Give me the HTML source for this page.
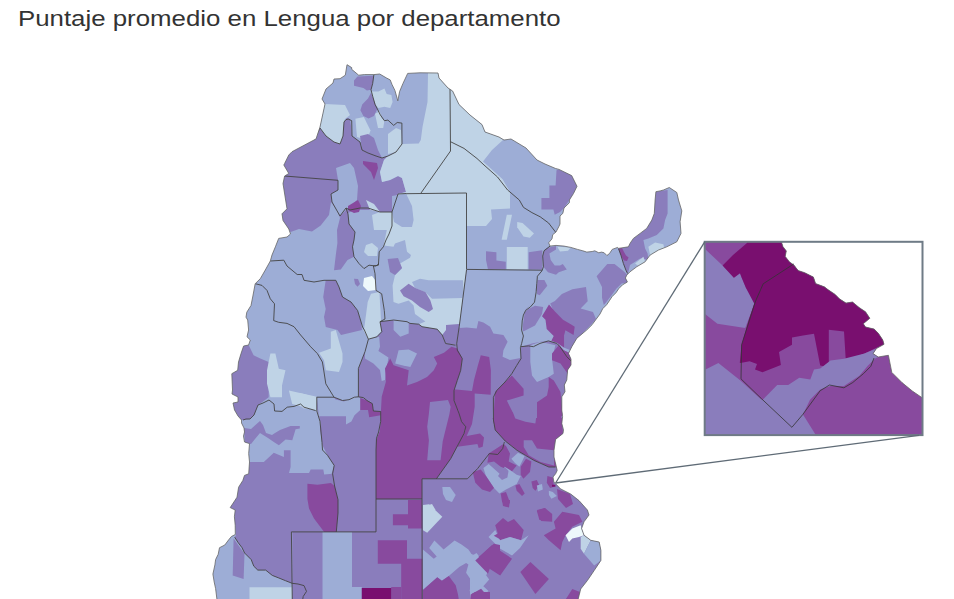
<!DOCTYPE html>
<html><head><meta charset="utf-8"><style>
html,body{margin:0;padding:0;background:#fff;}
body{width:954px;height:599px;overflow:hidden;position:relative;}
h1{position:absolute;left:18px;top:5.5px;margin:0;font-family:"Liberation Sans",sans-serif;font-weight:normal;font-size:22px;line-height:26px;color:#333;white-space:nowrap;transform-origin:0 0;transform:scaleX(1.1736);}
svg{position:absolute;left:0;top:0;}
</style></head><body>
<h1>Puntaje promedio en Lengua por departamento</h1>
<svg width="954" height="599" viewBox="0 0 954 599">
<clipPath id="cl"><polygon points="347,64.7 351.7,67.6 351.7,69.3 358.7,75.2 364.5,74.6 373.9,74.6 379.7,74 386.7,78.1 390.2,79.9 392,84.5 394.9,90.4 397.2,98.5 397.8,100.9 399.6,91.5 403,83.4 407.7,73.4 420,72.8 438,73 439,78 448,88 452.6,91 459,104.5 470,115 482,124.6 485,132 499,137 504,140 511,139 526,148 537,160 545,164 555.6,168.5 559,169.4 571.7,175.6 577,186.3 573.5,193.5 569.4,200 569.4,202.7 564,208 562.8,213.4 560,216 560,224 558.8,226.7 556,232 552.7,234.7 552,238.8 548.7,242.8 550,246.1 556,245.4 564,246.1 570.8,247.4 577.5,249.4 582.8,250.8 586.8,252.1 592.2,251.5 594.8,250.8 598.8,252.8 601.5,252.1 604.2,252.8 606.9,255.5 609.5,253.5 612.2,249.4 617.6,247.4 618.4,248.4 628.4,246.8 630,243.4 633.4,238.4 640.1,233.4 646.7,228.4 651.8,220.1 654.3,213.4 655.1,200 655.9,191.7 660.1,190.9 663.4,190 669.3,187.5 676.8,192.5 678.5,200 681.8,210.9 680.1,221.7 681,233.4 676.8,241.8 666.8,246.8 658.4,250.1 650.1,255.1 645.1,261.8 636.7,266.8 630,271.8 626.7,275.2 625.4,278 627.4,282 622.7,284.7 618.7,288.7 616,292.7 612,296.7 609.4,300.7 606.7,304.7 602.7,308.7 600,314 596,319.4 592,324.8 586.7,330 576.8,338.3 571.8,346.7 568.5,353.4 571,359.2 571,365 567.6,370 566.8,380 564.3,385 565,391.8 561.8,396.8 561.8,410 562.6,416.8 561.8,423.5 563.5,430 563,433.5 555.6,439.4 554,450.3 554,457 556.4,467 557.2,470.4 555.6,473.8 553,477 553.9,482 555.6,483.8 560.6,488.9 570.7,494 579,500.6 587.4,510 589,515 584,521.8 581.6,528.5 584,535.2 590.8,540.3 599.2,542 600.9,550.3 600.9,560.4 594.2,570.5 587.4,580.5 580.7,589 578.2,599 578,602 216,602 216.9,599 215.6,588.6 214.2,582 212.9,574.1 214.9,564.9 215.6,559.6 218.2,554.3 219.5,547.7 224.8,545 228.7,539.8 231.4,536.5 235.3,534.5 235.2,525.2 234.4,516.8 235.2,510 230.2,507.6 231.9,505 235.2,500 237,497.2 238.6,487.2 242.8,480.5 244.5,475.4 248.7,473.8 249.5,462 248.7,453.6 249.5,443.6 244.5,442 243.5,436 244.5,432 244,428 241.5,423 241.5,420 238,416 234.5,410 233,403 238,402 238,397 232,394 232.5,390 231.8,373.7 237.7,370.3 238.5,362 241,353.6 243.6,346 248.6,345 250.3,340 247,336.8 248.6,330 247.7,320 246,317.2 246.8,312.2 251,305.5 252.7,297 255.2,283.7 260.3,278.7 265.3,270 270.3,261 272,255 275.4,246.8 278.7,238.4 287,237 290.5,234 288.8,229 283,220.5 282,213.8 287,208.8 283,183.6 284.6,176 288.8,173.5 283.8,165 284.6,163.5 288.8,155 292,151.7 314,140 316,139 320,127 325,104 322,99 326,89 333,83 334,79 340,78.7 345.3,75.2"/></clipPath>
<polygon points="347,64.7 351.7,67.6 351.7,69.3 358.7,75.2 364.5,74.6 373.9,74.6 379.7,74 386.7,78.1 390.2,79.9 392,84.5 394.9,90.4 397.2,98.5 397.8,100.9 399.6,91.5 403,83.4 407.7,73.4 420,72.8 438,73 439,78 448,88 452.6,91 459,104.5 470,115 482,124.6 485,132 499,137 504,140 511,139 526,148 537,160 545,164 555.6,168.5 559,169.4 571.7,175.6 577,186.3 573.5,193.5 569.4,200 569.4,202.7 564,208 562.8,213.4 560,216 560,224 558.8,226.7 556,232 552.7,234.7 552,238.8 548.7,242.8 550,246.1 556,245.4 564,246.1 570.8,247.4 577.5,249.4 582.8,250.8 586.8,252.1 592.2,251.5 594.8,250.8 598.8,252.8 601.5,252.1 604.2,252.8 606.9,255.5 609.5,253.5 612.2,249.4 617.6,247.4 618.4,248.4 628.4,246.8 630,243.4 633.4,238.4 640.1,233.4 646.7,228.4 651.8,220.1 654.3,213.4 655.1,200 655.9,191.7 660.1,190.9 663.4,190 669.3,187.5 676.8,192.5 678.5,200 681.8,210.9 680.1,221.7 681,233.4 676.8,241.8 666.8,246.8 658.4,250.1 650.1,255.1 645.1,261.8 636.7,266.8 630,271.8 626.7,275.2 625.4,278 627.4,282 622.7,284.7 618.7,288.7 616,292.7 612,296.7 609.4,300.7 606.7,304.7 602.7,308.7 600,314 596,319.4 592,324.8 586.7,330 576.8,338.3 571.8,346.7 568.5,353.4 571,359.2 571,365 567.6,370 566.8,380 564.3,385 565,391.8 561.8,396.8 561.8,410 562.6,416.8 561.8,423.5 563.5,430 563,433.5 555.6,439.4 554,450.3 554,457 556.4,467 557.2,470.4 555.6,473.8 553,477 553.9,482 555.6,483.8 560.6,488.9 570.7,494 579,500.6 587.4,510 589,515 584,521.8 581.6,528.5 584,535.2 590.8,540.3 599.2,542 600.9,550.3 600.9,560.4 594.2,570.5 587.4,580.5 580.7,589 578.2,599 578,602 216,602 216.9,599 215.6,588.6 214.2,582 212.9,574.1 214.9,564.9 215.6,559.6 218.2,554.3 219.5,547.7 224.8,545 228.7,539.8 231.4,536.5 235.3,534.5 235.2,525.2 234.4,516.8 235.2,510 230.2,507.6 231.9,505 235.2,500 237,497.2 238.6,487.2 242.8,480.5 244.5,475.4 248.7,473.8 249.5,462 248.7,453.6 249.5,443.6 244.5,442 243.5,436 244.5,432 244,428 241.5,423 241.5,420 238,416 234.5,410 233,403 238,402 238,397 232,394 232.5,390 231.8,373.7 237.7,370.3 238.5,362 241,353.6 243.6,346 248.6,345 250.3,340 247,336.8 248.6,330 247.7,320 246,317.2 246.8,312.2 251,305.5 252.7,297 255.2,283.7 260.3,278.7 265.3,270 270.3,261 272,255 275.4,246.8 278.7,238.4 287,237 290.5,234 288.8,229 283,220.5 282,213.8 287,208.8 283,183.6 284.6,176 288.8,173.5 283.8,165 284.6,163.5 288.8,155 292,151.7 314,140 316,139 320,127 325,104 322,99 326,89 333,83 334,79 340,78.7 345.3,75.2" fill="#9dadd6"/>
<g clip-path="url(#cl)">
<polygon points="316,139 320,128 326,136 334,142 340,144 343,136 344,122 347,118 350,119 351,126 352,136 360,142 362,150 368,153 376,156 382,158 388,156 384,160 380,172 382,182 390,180 398,176 402,178 406,192 398,194 392,212 380,212 370,210 360,210 350,212 340,218 337,210 331,202 329,215 320.7,225.6 312,231.5 299,229 290.5,232 288.8,229 283,220.5 282,213.8 287,208.8 283,183.6 284.6,176 288.8,173.5 283.8,165 284.6,163.5 288.8,155 292,151.7 314,140" fill="#8a7dbc"/>
<polygon points="336,168 350,163 354,168 358,186 357,200 348,208 340,216 332,202 331,194 338,190 338,180" fill="#9dadd6"/>
<polygon points="363,161 370,162 377,163 378,168 374,180 371,172 366,167 363,164" fill="#884a9e"/>
<polygon points="348,206 358,200 361,206 359,212 354,213 348,210" fill="#884a9e"/>
<polygon points="340,218 344,214 349,209 348,214 349,224 355,232 354,240 352.5,247 354,256.8 347.5,260 340.8,269.4 334,270.3 335.8,255 337.4,243 337,230" fill="#8a7dbc"/>
<polygon points="322,104 325,104 345,105 350,115 345,119 344,122 343,128 343,136 340,144 334,142 326,136 320,128" fill="#bfd3e6"/>
<polygon points="371.5,91.5 378.5,91.5 384.4,88.6 386.7,93.9 391.4,95 392.6,102 390.2,107.9 384.4,106.7 378.5,107.9 375,104.4" fill="#bfd3e6"/>
<polygon points="355.4,118.7 363.8,117 370.5,130.5 367,140 357,137" fill="#bfd3e6"/>
<polygon points="375,113.7 379.7,111.4 382,118.4 384.4,120.7 383.2,128 378,128" fill="#bfd3e6"/>
<polygon points="388,134 396,128 401,130 402,144 396,152 388,154" fill="#bfd3e6"/>
<polygon points="354,80.4 357.5,76.4 373.9,75.8 372.7,83.4 371,89.8 366.9,90.4 363.4,88 354,85.7" fill="#8a7dbc"/>
<polygon points="360.4,110.2 362.2,104.4 368,98.5 371,92.7 377.4,109 373.9,116 368.6,118.4 363.4,116" fill="#8a7dbc"/>
<polygon points="360,136 368,134 374,138 378,150 382,158 372,155 362,150" fill="#8a7dbc"/>
<polygon points="428,73 438,73 439,78 448,88 452.6,91 459,104.5 470,115 482,124.6 485,132 499,137 503,140 492,150 483,161.5 492.2,169.8 502.6,179.2 506.8,186.5 510,192 510,208.5 491,209.5 492,219 486,226 466.5,226 466.5,270 459,330 455.6,345.2 445.6,343.5 442.2,335 437.2,329.2 422,326.7 418.7,324.2 410,323.4 407,321.7 393.6,320 385,319 384.3,310.5 381.7,293.8 376,290.4 375,273.6 373.4,266 378.4,265.2 379.2,251.8 383.4,246.8 386.8,230 374,230 372,215 380,212 392,212 398,194 406,192 402,178 398,176 390,180 382,182 380,172 384,160 388,156 396,152 402,144 418.7,143.4 420.8,140 422.5,127 427.5,102" fill="#bfd3e6"/>
<polygon points="380,245 393.5,246.8 395,243.4 405,240 407,251.8 411,255 410,257.7 400,263.6 402,268.6 395,275.3 392.6,285.4 393.5,302 398.5,303.8 408.6,300.5 413.6,305.5 415,314 425.4,321.4 418.7,324.2 410,323.4 407,321.7 393.6,320 385,319 384.3,310.5 381.7,293.8 376,290.4 375,273.6 373.4,266 378.4,265.2 379.2,251.8" fill="#9dadd6"/>
<polygon points="392,196 406,193.5 412,206 413.6,220 412,227 402,227 394,222 392,212" fill="#9dadd6"/>
<polygon points="412,282 420,278.7 428.7,280.3 463,280.3 463.4,293.4 462.5,298 432,298.8 425,292 415,288" fill="#9dadd6"/>
<polygon points="387.6,259 398,258 402,268 395,275 390,272" fill="#8a7dbc"/>
<polygon points="446,325 459,324 459,330 456,345 445.6,343.5 442.2,335 446,330" fill="#8a7dbc"/>
<polygon points="366,200 374,204 380,212 370,210" fill="#bfd3e6"/>
<polygon points="400,290.4 408.6,283.7 415.3,288 425.4,292 430.4,300.5 433,309 428.7,312 420,307 412,300.5 403.6,296.3" fill="#8a7dbc"/>
<polygon points="506.8,247 527.7,247 527.7,269.5 506.8,269.5" fill="#bfd3e6"/>
<polygon points="506.8,214.7 512,214.7 506.8,239.8 501.6,239.8" fill="#bfd3e6"/>
<polygon points="517.2,222 522.5,223 534,233.5 529.8,237.7 523.5,236.6 517.2,227.2" fill="#bfd3e6"/>
<polygon points="486,251.3 496.4,252.3 496.4,260.6 505.8,261.7 505.8,269.5 488,269.5 486,260" fill="#8a7dbc"/>
<polygon points="528.7,252.3 542.3,250.2 542.3,269.5 528.7,269.5" fill="#8a7dbc"/>
<polygon points="556.5,170.3 559,169.4 571.7,175.6 577,186.3 573.5,193.5 569.4,200 564,208 560,212 554.7,214.7 553.4,209.4 541.4,209.5 541.4,198 549.4,198 549.4,185.5 555.6,185.5" fill="#8a7dbc"/>
<polygon points="618.4,248.4 628.4,246.8 630,243.4 633.4,238.4 640.1,233.4 646.7,228.4 651.8,220.1 654.3,213.4 655.1,200 655.9,191.7 660.1,190.9 667.6,190 667.6,213.4 665.1,220.1 663.4,228.4 656.8,235.1 648.4,238.4 643.4,240.1 645.1,248.4 647.6,253.5 648.4,260.1 640.1,258.5 635.1,261.8 630,265.1 628.4,271.8 627.5,273.5 625.9,270.1 623.4,263.5 620.9,255.1" fill="#8a7dbc"/>
<polygon points="618.4,248.4 622,248 624,252 626,255.5 628.6,257.6 627,261 624,260.5 621.8,257 620,253" fill="#884a9e"/>
<polygon points="648.4,246.8 655.1,242.6 663.4,244.3 664.3,248.4 658.4,251.8 650.1,255.1" fill="#bfd3e6"/>
<polygon points="635.1,263.5 643.4,256.8 645.1,261.8 638.4,266" fill="#bfd3e6"/>
<polygon points="544,250.8 546.7,248.1 556,246.1 556,249.4 549.4,253.5 550.7,260.1 554.7,265.5 560,265.5 562.8,264.1 566.8,269.5 558.8,272.2 556,274.8 548,272.2 543.4,266.8 542.7,256" fill="#8a7dbc"/>
<polygon points="557.4,246.8 570.8,247.4 568,250.8 560,251.5" fill="#bfd3e6"/>
<polygon points="537.4,280 544.4,280 547.3,285.8 539.7,295.2 536.8,294" fill="#8a7dbc"/>
<polygon points="596.6,276.3 607.3,264 614.5,264 623.4,271 627,274.6 627,282.6 621.6,283.5 616.3,288.8 611,296 605.6,303 603.8,305 602,297.7 602,287" fill="#8a7dbc"/>
<polygon points="550.2,303.4 554.9,301 561.9,294 572.4,289.3 586,287 587.7,301.3 580.6,308.4 593,312 596,319 589,326.7 584,331.7 578,340 575,346 570,350 564.2,347.7 564.2,334.9" fill="#8a7dbc"/>
<polygon points="523.4,313.9 528,309.2 535,305.7 543.2,306.9 542,313.9 535,325.5 525.7,330.2 522.8,331.4" fill="#8a7dbc"/>
<polygon points="542,316.2 549,304.5 554.9,311.5 563,319.7 571.2,324.4 574.7,326.7 573.6,334.9 565.4,330.2 564.2,334.9 564.2,347.7 557.2,343 551.4,340.7 553.7,336 546.7,329 545.5,319.7" fill="#884a9e"/>
<polygon points="466.5,270 459,330 456,345 457.3,350.2 462.3,358.6 460.7,370.3 457.3,380.4 454,390.5 454,400.5 457.3,409 458.2,410 459,413.4 461.6,421.7 465.8,426.8 464,433.5 450.7,458.7 436.4,478.8 467.4,478.8 477.5,468.7 489.3,453.6 497.7,454.5 502.7,448.6 504.4,441.9 505.2,441 495.2,430 492.6,420 493.4,397.2 496.7,390.5 505,382 511.8,373.7 516.8,365.3 521,358.6 520.2,345.2 522,328.4 523.6,320 523.6,313.8 527,308.4 532.5,301.3 535,292.4 537,283.5 537.8,274.6 542,270" fill="#8a7dbc"/>
<polygon points="466.7,269.2 542,270 538.5,275 536.8,283.4 533.5,301.7 525.1,310.1 522.6,326.8 521,346.8 520.6,358 510,360 502.6,356.8 503.4,350.2 507.6,341.8 503.4,335.1 493.4,333.5 490.1,326.8 483.4,322.6 478.4,321 476.7,328.4 466.7,327.6 459.2,328 463.4,293.4" fill="#9dadd6"/>
<polygon points="480.8,355.2 489.2,357 490.9,370.3 490.7,394.7 474.7,393.4 474.7,406.7 472,424 466.7,436 480,433.4 484,437.4 482.7,446.8 478.7,448 477.4,444 457.4,446.8 460,440 465.4,430.7 460.7,420 454.7,406.7 452.7,390.7 453.4,389.3 472,391 474,380 478,365" fill="#884a9e"/>
<polygon points="521,346.8 532,343.5 540.3,341.8 550.4,341 558.8,344.3 563.8,350.2 570.5,353.6 571.4,363.6 568,370.3 566.3,382 565.5,390.5 562,397.2 562,407.2 563,414 561.4,416.7 563,433.5 555.6,439.4 554,450.3 554,457 556.4,467 548.9,467 533.8,460.3 525.4,455.3 517,450.3 505.2,441 495.2,430 492.6,420 493.4,397.2 496.7,390.5 505,382 511.8,373.7 516.8,365.3 521,358.6" fill="#8a7dbc"/>
<polygon points="530.3,345.2 540.3,341.8 555.4,345.2 552,358.6 553.8,373.7 548.7,377 537,382 532,375.4 530.3,362" fill="#9dadd6"/>
<polygon points="552,353.6 558.8,345.2 563.8,350.2 570.5,353.6 571.4,363.6 568.9,375.4 560.5,363.6 552,360.3" fill="#884a9e"/>
<polygon points="548.7,377 553.8,380.4 560.5,392 562,407.2 563,414 561.4,416.7 562,420 537,420 537,402.2 547,395.5 548.7,387" fill="#884a9e"/>
<polygon points="495,392 511.8,375.4 523.6,388.8 523.6,395.5 506.8,400.5 511.8,410.6 518.5,420 493.4,420" fill="#884a9e"/>
<polygon points="492.6,418 562,418 563,433.5 555.6,439.4 554,450.3 554,457 556.4,467 548.9,467 533.8,460.3 525.4,455.3 517,450.3 505.2,441 495.2,430" fill="#884a9e"/>
<polygon points="512,410 537,410 535.4,423.4 525.4,421.7 515.3,418.4" fill="#8a7dbc"/>
<polygon points="523.7,440.2 532,440.2 537,448.6 554,450.3 554,465.4 540.5,462 528.7,455.3 523.7,447" fill="#8a7dbc"/>
<polygon points="325.7,280.3 335.8,280.3 339,287 342.5,297 351,302 357.6,310.5 361,322 362,330 341,335 337.5,330 325.8,327 324,317 325.7,309 323.2,297" fill="#8a7dbc"/>
<polygon points="364,278 372,276 376,281 376,290 368,291 363,286" fill="#edf8fb"/>
<polygon points="367.7,302 371,293.8 379.4,292 381,320 381,331.7 376.8,336.8 368.4,338.5 364,330" fill="#bfd3e6"/>
<polygon points="366,245 372,243 378,248 377,256 368,256 364,252" fill="#bfd3e6"/>
<polygon points="354,278.7 358,279 360,284 357.5,286.7 355,284" fill="#8a7dbc"/>
<polygon points="243.6,346 248.6,345 253.6,355.2 260.3,358.6 268.7,362 268.7,397.2 262,402.2 258,405 254,415 250,419 243,420 241.5,420 238,416 234.5,410 233,403 238,402 238,397 232,394 232.5,390 231.8,373.7 237.7,370.3 238.5,362 241,353.6" fill="#8a7dbc"/>
<polygon points="270.4,353.6 275.4,353.6 278.8,368.7 285.5,370.3 282,385.4 282,397.2 270.4,397.2 267,383.8 267,370.3" fill="#bfd3e6"/>
<polygon points="288.9,390.5 300,393 315.7,397.2 316.5,410.6 304,407.2 292.2,404" fill="#bfd3e6"/>
<polygon points="319,352.7 330.8,348.5 330.8,331.7 335.8,330 342.5,353.6 342.5,362 339,372 325.8,370.3 324,360.3" fill="#bfd3e6"/>
<polygon points="380,321.7 393.6,320 407,321.7 410,323.4 418.7,324.2 422,326.7 437.2,329.2 442.2,335 445.6,343.5 455.6,345.2 457.3,350.2 462.3,358.6 460.7,370.3 457.3,380.4 454,390.5 454,400.5 457.3,409 458.2,410 459,413.4 461.6,421.7 465.8,426.8 464,433.5 450.7,458.7 436.4,478.8 422,478.8 422,499 376,499 376,440.2 379.4,431.8 380.9,411.8 374.2,411 370.9,401.8 363.4,397.6 358.4,396.8 358.4,368.4 365,351.7 368.4,339.2 376.8,336.8 381.8,331.7" fill="#8a7dbc"/>
<polygon points="363.4,330 380.9,330 380.9,331.7 375,337.5 368.4,339.2" fill="#bfd3e6"/>
<polygon points="368.4,339.2 379.2,336.7 380,346.7 378.4,350.9 388.4,357.5 385,380 381.7,381 380,370 373.4,363.4 365,358.4 365,351.7" fill="#9dadd6"/>
<polygon points="393.6,320 408.7,321.7 408.7,333.4 400.3,336.8 393.6,330" fill="#9dadd6"/>
<polygon points="398.6,350.2 408.7,349.4 417,353.6 410.3,367 402,365.3 395.2,363.6" fill="#9dadd6"/>
<polygon points="390.2,358.6 393.6,365.3 408.7,370.3 407,385.4 417,382 427,377 433.8,370.3 437.2,363.6 433.8,357 444,352.7 451.4,346.8 457.3,348.5 462.3,358.6 460.7,370.3 457.3,380.4 454,390.5 454,400.5 457.3,409 458.2,410 459,413.4 461.6,421.7 465.8,426.8 464,433.5 450.7,458.7 436.4,478.8 422,478.8 422,499 376,499 376,440.2 379.4,431.8 380.9,411.8 381.7,396.8 385.9,381.8 385,368.4" fill="#884a9e"/>
<polygon points="430,402 448,400 450.7,406.7 449.3,414.7 445.3,430.7 442.7,441.4 440.6,460.3 427.2,460.3 428.9,440.2 427.2,426.8 428.9,413.4" fill="#8a7dbc"/>
<polygon points="376,499 376,440.2 379.4,431.8 381,420 380,412 376,412 376,499" fill="#8a7dbc"/>
<polygon points="316.5,397.2 334,397.2 342.5,400.5 349,399.7 354.3,397.2 358.4,396.8 363.4,397.6 370.9,401.8 374.2,411 380.9,411.8 380,430 376,440.2 376,531.9 335,531.9 337,513 337,499.7 333.6,486 331.6,473.8 334.2,465.4 327.5,455.3 322.5,445.2 320,430 320.8,423.4 317.4,410" fill="#8a7dbc"/>
<polygon points="316.8,397.3 333.5,397.3 335.6,399.4 344,401.5 348.2,399.4 354.5,396.8 358.7,397.3 360.3,397.9 360.3,410 354.5,415.2 351.4,421.4 346,424.6 346,416.2 318.9,416.2" fill="#9dadd6"/>
<polygon points="360.3,397.9 367,400.5 372.3,403.6 373.4,411 380.7,411.5 380.7,415.2 369.2,417.3 368,410 360.3,410" fill="#884a9e"/>
<polygon points="300,393 316.8,396.8 316.8,411 313.6,409.4 303,408.3 300,403.6" fill="#bfd3e6"/>
<polygon points="249.5,462 263.8,462 273.8,452.8 283.9,457 283.9,450.3 290.6,450.3 290.6,467 289,473 309,473 310.7,469.6 323.3,469.6 324.2,474.6 332.6,473.8 336,487.2 339.3,499 339.3,510 339,531.9 291.4,531.9 292.1,583.3 285.5,580.7 278.9,578 272.3,575.4 265.7,570.1 257.8,570.1 253.8,566.2 251.2,559.6 244.6,553 242,547.7 238,542.4 234.7,537.2 236,535.2 235.2,525.2 234.4,516.8 235.2,510 230.2,507.6 231.9,505 235.2,500 237,497.2 238.6,487.2 242.8,480.5 244.5,475.4 248.7,473.8" fill="#8a7dbc"/>
<polygon points="244,428 251,429 260,421 263,425 266,433 272,435 275,433 280,430 290.6,426 299.8,426 299.8,428.5 295.6,429.3 292.3,440.2 285.6,439.4 278.9,445.2 273.8,442 268,438 260,433 255,439 251,444 245,443" fill="#8a7dbc"/>
<polygon points="307.4,483.8 317.4,484.7 330.9,483 334.6,486 338,499.7 338,513 336.3,531.9 324.2,531.9 314,518.5 309,508.4 307.4,499" fill="#884a9e"/>
<polygon points="233.6,538.6 244.5,553.7 243.6,578.9 232.7,575.5" fill="#8a7dbc"/>
<polygon points="249.5,587.2 292.3,587.2 292.3,602 249.5,602" fill="#bfd3e6"/>
<polygon points="292.3,531.9 322.5,531.9 322.5,602 292.3,602" fill="#8a7dbc"/>
<polygon points="352,531.9 376,531.9 376,499 422.2,499 422.2,602 352,602" fill="#8a7dbc"/>
<polygon points="408,500 422.2,500 422.2,528.5 408,528.5 408,525.2 392.9,525.2 392.9,514.3 408,514.3" fill="#884a9e"/>
<polygon points="377.8,540.3 407,540.3 407,558.7 422.2,558.7 422.2,602 401.2,602 401.2,563.8 377.8,563.8" fill="#884a9e"/>
<polygon points="352,587 361.8,587 361.8,602 352,602" fill="#9dadd6"/>
<polygon points="391.2,587 401.2,587 401.2,602 391.2,602" fill="#884a9e"/>
<polygon points="361.8,588 391.2,588 391.2,602 361.8,602" fill="#790f6f"/>
<polygon points="422,478.8 436.4,478.8 467.4,478.8 477.5,468.7 489.3,453.6 497.7,454.5 502.7,448.6 505.2,441 517,450.3 525.4,455.3 533.8,460.3 548.9,467 556.4,467 557.2,470.4 555.6,473.8 553,477 553.9,482 555.6,483.8 560.6,488.9 570.7,494 579,500.6 587.4,510 589,515 584,521.8 581.6,528.5 584,535.2 590.8,540.3 599.2,542 600.9,550.3 600.9,560.4 594.2,570.5 587.4,580.5 580.7,589 578.2,599 578,602 422.2,602" fill="#8a7dbc"/>
<polygon points="442.3,487 450,487 455.7,495 452,502 446,500 443,494" fill="#9dadd6"/>
<polygon points="427,505.6 432,504 435.6,510 430,512" fill="#bfd3e6"/>
<polygon points="488.7,453.4 503.4,444 506,446 510,453.4 508.7,461.4 516.7,465.4 511.4,472 507.4,469.4 500.7,466.7 494,461.4 487.4,462.7" fill="#884a9e"/>
<polygon points="511.4,458.7 518,452.7 524.7,456 519.4,466.7 515,463" fill="#9dadd6"/>
<polygon points="520.7,466.7 526,458.7 531.4,461.4 530,472 523.4,478.7 520.7,474.7" fill="#884a9e"/>
<polygon points="483.4,468 488.7,464 500.7,474.7 504.7,466.7 510,470 516.7,474.7 520.7,476 516.7,484 506,489.4 499.4,493.4 494,488 486,476" fill="#9dadd6"/>
<polygon points="498,476 504.7,466.7 508.5,471 507.4,477.4 502,480" fill="#8a7dbc"/>
<polygon points="472.7,472 480.7,469.4 486,476 494,488 490,492 482,489.4 475.3,482.7" fill="#884a9e"/>
<polygon points="500.7,493.4 506,492 510,502.7 506,506.7 502,501.4" fill="#884a9e"/>
<polygon points="515.4,485.4 519.4,484 524.7,493.4 522,496 516.7,490.7" fill="#884a9e"/>
<polygon points="531.4,481.4 536.8,480 539.4,485.4 535.4,490.7 532.7,488" fill="#884a9e"/>
<polygon points="536.8,485.4 542,484 542.8,489.4 538,491.4" fill="#9dadd6"/>
<polygon points="547.4,476 552.8,477.4 554,486.7 550.1,488 546.8,482.7" fill="#884a9e"/>
<polygon points="548.8,490.7 552.8,492 556.8,496 551.4,498.7 549,495" fill="#9dadd6"/>
<polygon points="536.8,510.8 544.8,508 550.1,514.8 550,520 539.4,520" fill="#884a9e"/>
<polygon points="552,484.7 555.4,484.7 555.4,486.7 552,486.7" fill="#790f6f"/>
<polygon points="557,489 570,494 573,504 566,508 558,499" fill="#884a9e"/>
<polygon points="495.2,525.2 503,518 508,522 514,519 523.7,530 521,540.3 510,537 500,540.3" fill="#884a9e"/>
<polygon points="488.5,537 495.2,530 500,540.3 510,537 521,540.3 528.7,535.2 520,548 512,555.4 500.2,548.7" fill="#9dadd6"/>
<polygon points="475,560.4 491.8,545.3 512,558.7 500.2,575.5 486.8,567" fill="#884a9e"/>
<polygon points="470,553.7 478,556 488.5,570 482,585 488.5,591 478,599 470,599" fill="#9dadd6"/>
<polygon points="520.3,572.1 530.4,562 548.9,578.9 535.4,594" fill="#884a9e"/>
<polygon points="537,510 545,508 552.2,514 552.2,521.8 541,521" fill="#884a9e"/>
<polygon points="543.8,535.2 555.6,528.5 553.9,521.8 562.3,511.7 579,515 582.4,521.8 572.3,526.8 565.6,535.2 562.3,542 560.6,550.3 548.9,540.3" fill="#884a9e"/>
<polygon points="565.6,535.2 572.3,528.5 580.7,525.2 581.6,528.5 584,535.2 579,537 572.3,538.6 569,542" fill="#edf8fb"/>
<polygon points="580.7,537 584,535.2 590.8,540.3 584,553.7 580.7,548.7" fill="#bfd3e6"/>
<polygon points="584,553.7 590.8,540.3 599.2,542 600.9,550.3 600.9,560.4 594.2,565.4" fill="#9dadd6"/>
<polygon points="564,602 572.3,589 580,592 578.2,599 578,602" fill="#884a9e"/>
<polygon points="472,592 490,592 490,602 472,602" fill="#884a9e"/>
<polygon points="423,505 429,504.2 442.3,516.8 427.2,532.7 423,530.2" fill="#bfd3e6"/>
<polygon points="422.9,549.6 433.8,558.8 436.7,556.5 429.2,547.9 434.4,540.4 443.6,549.6 454.6,540.4 461.5,544.4 468.4,549.6 472.5,555.4 476.5,553 478.8,556 475.3,560.5 489.2,579.6 481.1,588.8 470.7,594.6 469.6,590 471.9,587.6 470.7,579.6 466.1,572.7 468.4,564.6 466.1,562.9 459.2,566.9 448.8,576.1 441.9,580.7 437.3,577.3 422.9,590" fill="#9dadd6"/>
<polygon points="422.9,590 437.3,577.3 441.9,580.7 448.8,576.1 455.7,585.3 458,594.6 459.2,602 422.9,602" fill="#884a9e"/>
<polygon points="475.3,560.5 484.6,552 493.8,543.8 500,545 500,575 490.3,566.9 488,573.8" fill="#884a9e"/>
<polygon points="470.7,594.6 481.1,588.8 489.2,598 489,602 470,602" fill="#884a9e"/>
<polygon points="493.8,535.8 500,532.3 500,539.2" fill="#884a9e"/>
<polygon points="419,559 422.3,559 422.3,602 419,602" fill="#884a9e"/>
<polygon points="502,500 510,500 509,507.5 503,506" fill="#884a9e"/>
<g fill="none" stroke="#444" stroke-width="0.9" stroke-linejoin="round">
<polyline points="450,88.5 450.5,151 421,193"/>
<polyline points="406,193.7 466.5,193 466.5,269.4"/>
<polyline points="450.5,141.7 464,148.4 477,158.5 484,165 497.5,177 507.6,190 519.3,200 523.5,207.4 531.9,212.6 540.2,216.8 548.6,223 555.9,232.5"/>
<polyline points="466.5,269.4 542,270.2"/>
<polyline points="550,246.1 544,250.8 542.7,256.1 543.4,266.8 542,270.8 537.4,276.2 536.8,283.5 536.2,291.7 534.5,302.2 530.4,306.9 525.7,310.4 523.4,315 522.2,320.9 521.6,330.2 523.4,336 521.6,343.6 520.4,347.7 521,358.6 516.8,365.3 511.8,373.7 505,382 496.7,390.5 493.4,397.2 493.4,420 495.2,430 505.2,441 517,450.3 525.4,455.3 533.8,460.3 548.9,467 555.6,467"/>
<polyline points="520.9,346.7 528.4,345.9 533.4,346.7 540,343.4 548.4,340.9 556.8,343.4 560,346.7 566.8,356.7 571,361"/>
<polyline points="618.4,248.4 620.9,255.1 623.4,263.5 625.9,270.1 627.5,273.5"/>
<polyline points="466.5,270 459.2,326.8 456.7,343.5 457.3,350.2 462.3,358.6 460.7,370.3 457.3,380.4 454,390.5 454,400.5 457.3,409 459,413.4 461.6,421.7 465.8,426.8 464,433.5 450.7,458.7 436.4,478.8"/>
<polyline points="422,478.8 467.4,478.8 477.5,468.7 489.3,453.6 497.7,454.5 502.7,448.6 504.4,441.9"/>
<polyline points="422,478.8 422.2,602"/>
<polyline points="376,499 422,499"/>
<polyline points="376,450 376,531.9 291.4,531.9 292.3,602"/>
<polyline points="380,321.7 385,319 384.3,310.5 381.7,293.8 376,290.4 375,273.6 373.4,266 378.4,265.2 379.2,251.8 383.4,246.8 386,240 389,234 392,226 392,212"/>
<polyline points="380,321.7 393.6,320 407,321.7 410,323.4 418.7,324.2 422,326.7 437.2,329.2 442.2,335 445.6,343.5 455.6,345.2"/>
<polyline points="380,321.7 381.8,331.7 376.8,336.8 368.4,339.2 365,351.7 358.4,368.4 358.4,396.8 363.4,397.6 367,400.5 372.3,403.6 373.4,411 380.7,411.5 380.7,421.4 378.6,432 376.5,438.2 376,450"/>
<polyline points="316.5,397.2 334,397.2 342.5,400.5 349,399.7 354.3,397.2 358.4,396.8"/>
<polyline points="316.8,397.3 316.8,411 320,421.4 321,432 322,442.4 322.5,450 327.5,455.3 334.2,465.4 332.6,473.8 334.6,486 338,499.7 338,513 336.3,531.9"/>
<polyline points="243,420 246,419 250,419 254,415 258,405 263,403 269,400 274,404 274.6,411 282,411.4 287.2,407.2 294,406.4 300.6,404 304,407.2 315.7,410.6"/>
<polyline points="273.7,320.6 278.7,322.3 287,323.4 294,326.7 300.6,335 310.7,346.8 317.4,353.6 322.4,362 324,372 325.8,383.8 330.8,392 334,397.2"/>
<polyline points="255.2,283.7 262,285.4 267,290.4 270.3,298.8 274.5,303.8 273.7,320.6"/>
<polyline points="270.3,261 283.8,260.2 287,266 297.2,274.5 302,274.5 304,280.3 314,282 324,280.3 335.8,280.3 339,287 342.5,297 351,302 357.6,310.5 362.6,327 364.4,330 368.4,339.2"/>
<polyline points="284.6,176 338,180.3 338,190 331,194 332,202 340,216 346,208 350,210 360,208 368,208 380,212 392,212"/>
<polyline points="346,208 348,214 349,224 355,232 354,240 352.5,246.8 354,256.8 359,263.6 364,268.6 369,265.2 376,266 379,263.6"/>
<polyline points="314,140 320,128 326,136 334,142 340,144 343,136 344,122 346,119.6 348.2,119 351.7,120.7 352,136"/>
<polyline points="352,136 360,142 362,150 368,153 376,156 382,158 388,156 396,152 402,144"/>
<polyline points="373.9,74.6 372.7,83.4 371,89.8 372.7,96.2 375,104.4 377.4,109 380.3,114.9 384.4,120.7 387.9,120.1 393.7,125.4 397.2,122.5 401.9,123.1 401.9,130 402,144"/>
<polyline points="392,212 398,194 406,193.5"/>
<polyline points="234.7,537.2 238,542.4 242,547.7 244.6,553 251.2,559.6 253.8,566.2 257.8,570.1 265.7,570.1 272.3,575.4 278.9,578 285.5,580.7 292.1,583.3 298,584 304,585.6 306.5,591.4 303.2,596.5 302.3,602"/>
</g></g>
<polygon points="347,64.7 351.7,67.6 351.7,69.3 358.7,75.2 364.5,74.6 373.9,74.6 379.7,74 386.7,78.1 390.2,79.9 392,84.5 394.9,90.4 397.2,98.5 397.8,100.9 399.6,91.5 403,83.4 407.7,73.4 420,72.8 438,73 439,78 448,88 452.6,91 459,104.5 470,115 482,124.6 485,132 499,137 504,140 511,139 526,148 537,160 545,164 555.6,168.5 559,169.4 571.7,175.6 577,186.3 573.5,193.5 569.4,200 569.4,202.7 564,208 562.8,213.4 560,216 560,224 558.8,226.7 556,232 552.7,234.7 552,238.8 548.7,242.8 550,246.1 556,245.4 564,246.1 570.8,247.4 577.5,249.4 582.8,250.8 586.8,252.1 592.2,251.5 594.8,250.8 598.8,252.8 601.5,252.1 604.2,252.8 606.9,255.5 609.5,253.5 612.2,249.4 617.6,247.4 618.4,248.4 628.4,246.8 630,243.4 633.4,238.4 640.1,233.4 646.7,228.4 651.8,220.1 654.3,213.4 655.1,200 655.9,191.7 660.1,190.9 663.4,190 669.3,187.5 676.8,192.5 678.5,200 681.8,210.9 680.1,221.7 681,233.4 676.8,241.8 666.8,246.8 658.4,250.1 650.1,255.1 645.1,261.8 636.7,266.8 630,271.8 626.7,275.2 625.4,278 627.4,282 622.7,284.7 618.7,288.7 616,292.7 612,296.7 609.4,300.7 606.7,304.7 602.7,308.7 600,314 596,319.4 592,324.8 586.7,330 576.8,338.3 571.8,346.7 568.5,353.4 571,359.2 571,365 567.6,370 566.8,380 564.3,385 565,391.8 561.8,396.8 561.8,410 562.6,416.8 561.8,423.5 563.5,430 563,433.5 555.6,439.4 554,450.3 554,457 556.4,467 557.2,470.4 555.6,473.8 553,477 553.9,482 555.6,483.8 560.6,488.9 570.7,494 579,500.6 587.4,510 589,515 584,521.8 581.6,528.5 584,535.2 590.8,540.3 599.2,542 600.9,550.3 600.9,560.4 594.2,570.5 587.4,580.5 580.7,589 578.2,599 578,602 216,602 216.9,599 215.6,588.6 214.2,582 212.9,574.1 214.9,564.9 215.6,559.6 218.2,554.3 219.5,547.7 224.8,545 228.7,539.8 231.4,536.5 235.3,534.5 235.2,525.2 234.4,516.8 235.2,510 230.2,507.6 231.9,505 235.2,500 237,497.2 238.6,487.2 242.8,480.5 244.5,475.4 248.7,473.8 249.5,462 248.7,453.6 249.5,443.6 244.5,442 243.5,436 244.5,432 244,428 241.5,423 241.5,420 238,416 234.5,410 233,403 238,402 238,397 232,394 232.5,390 231.8,373.7 237.7,370.3 238.5,362 241,353.6 243.6,346 248.6,345 250.3,340 247,336.8 248.6,330 247.7,320 246,317.2 246.8,312.2 251,305.5 252.7,297 255.2,283.7 260.3,278.7 265.3,270 270.3,261 272,255 275.4,246.8 278.7,238.4 287,237 290.5,234 288.8,229 283,220.5 282,213.8 287,208.8 283,183.6 284.6,176 288.8,173.5 283.8,165 284.6,163.5 288.8,155 292,151.7 314,140 316,139 320,127 325,104 322,99 326,89 333,83 334,79 340,78.7 345.3,75.2" fill="none" stroke="#666" stroke-width="0.8"/>
<clipPath id="ic"><rect x="705" y="242" width="217.5" height="193"/></clipPath>
<g clip-path="url(#ic)">
<rect x="705" y="242" width="217" height="193" fill="#fff"/>
<polygon points="705,242 781.9,242 781.9,243.4 783,246.7 786.3,251 785.2,256.4 789.5,261.9 793.9,265.1 798.2,270.6 804.7,272.7 813.4,277.1 815.6,283.6 824.3,286.8 828.6,290.1 835.1,294.4 839.4,298.8 846,303.1 852.5,302 859,307.4 865.5,311.8 869.8,318.3 863.3,323.7 865.5,327 874.2,329.1 878.5,333.5 882.8,340 884,344.3 876.5,348.5 873,353.6 878.2,357 888.4,355.3 891.8,372.4 902,382.6 912.3,391 922.5,398 922.5,435 705,435" fill="#884a9e"/>
<polygon points="705,249 722.6,265.5 733.9,277.7 740,273.3 741.7,277.7 746,288 755.6,301 745.2,328 717.4,323.7 705,314" fill="#8a7dbc"/>
<polygon points="722.6,265.5 733,255 747,243 747,242 781.9,242 781.9,243.4 783,246.7 786.3,251 785.2,256.4 789.5,261.9 793.9,265.1 798.2,270.6 804.7,272.7 813.4,277.1 815.6,283.6 824.3,286.8 828.6,290.1 835.1,294.4 839.4,298.8 846,303.1 852.5,302 859,307.4 865.5,311.8 869.8,318.3 863.3,323.7 865.5,327 874.2,329.1 878.5,333.5 882.8,340 884,344.3 864.5,353.6 845.8,360.4 844,331.5 828.8,329.8 828.8,367.3 820.2,365.6 814,333.7 803,335.5 792,337.4 792,344.7 779,352 780.9,365 762.5,372.3 755,369.5 757,364 749.6,361.2 740.4,363 739.8,362.7 741.6,344.8 748.8,319.7 754.2,303.5 746,288 741.7,277.7 740,273.3 733.9,277.7" fill="#790f6f"/>
<polygon points="705.5,369.5 718.4,363 740.4,380.5 760.7,399 762.5,399.9 777.2,385 788.2,385 799.3,377.8 810.3,379.6 814,369.5 820.2,368.6 830.5,360.4 844,358.7 864.5,353.6 876.5,348.5 873,353.6 878.2,357 874.8,358.7 868,365.6 859.4,375.8 844,386 830.5,386 820.2,389.4 810,399.7 803,414.6 815.8,435 705,435" fill="#8a7dbc"/>
<polyline points="781.9,242 781.9,243.4 783,246.7 786.3,251 785.2,256.4 789.5,261.9 793.9,265.1 798.2,270.6 804.7,272.7 813.4,277.1 815.6,283.6 824.3,286.8 828.6,290.1 835.1,294.4 839.4,298.8 846,303.1 852.5,302 859,307.4 865.5,311.8 869.8,318.3 863.3,323.7 865.5,327 874.2,329.1 878.5,333.5 882.8,340 884,344.3 876.5,348.5 873,353.6 878.2,357 888.4,355.3 891.8,372.4 902,382.6 912.3,391 922.5,398" fill="none" stroke="#666" stroke-width="0.8"/>
</g>
<polyline points="705,242 722,260 705,260" fill="none" stroke="none"/>
<polyline points="793.7,264 763.2,283.8 755.6,301 741.6,344.8 741,378.9 761.4,398.6 791.9,427.3 802.6,414.7 820.2,390.7 829.5,385 843.9,387.8 852.8,382.5 863.6,373.5 870.8,366.3 874,358" fill="none" stroke="#333" stroke-width="0.8"/>
<rect x="704.7" y="241.8" width="217.8" height="193.3" fill="none" stroke="#6f7b86" stroke-width="2"/>
<line x1="704.7" y1="241.8" x2="555.6" y2="483" stroke="#5f6b76" stroke-width="1.3"/>
<line x1="919" y1="435.4" x2="555.6" y2="483" stroke="#5f6b76" stroke-width="1.3"/>
</svg>
</body></html>
